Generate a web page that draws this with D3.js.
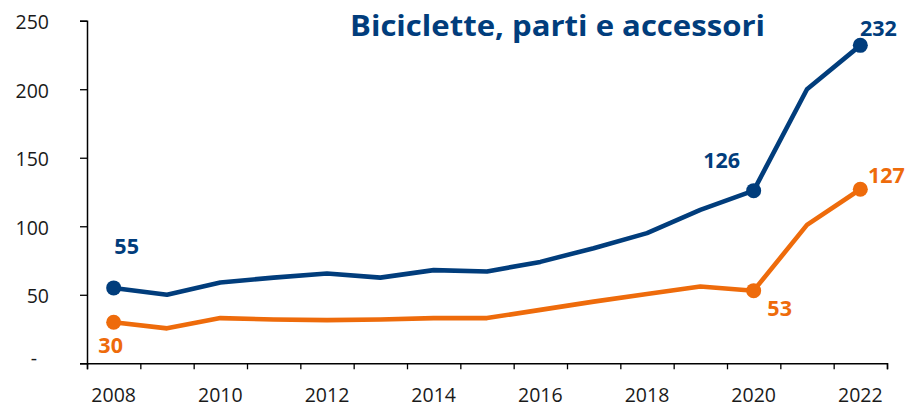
<!DOCTYPE html>
<html><head><meta charset="utf-8">
<script src="https://cdn.jsdelivr.net/npm/d3@7"></script>
<style>body{margin:0;background:#fff}svg{display:block}</style>
</head><body>
<svg id="c" width="908" height="409"></svg>
<script>
const years = [2008,2009,2010,2011,2012,2013,2014,2015,2016,2017,2018,2019,2020,2021,2022];
const blueValues = [55,50,59,62.5,65.5,62.5,68,67,74,84,95,112,126,200,232];
const orangeValues = [30,25.5,33,32,31.5,32,33,33,39,45,50.5,56,53,101,127];
const yTicks = [0,50,100,150,200,250];
const xLabelYears = [2008,2010,2012,2014,2016,2018,2020,2022];
const titleText = "Biciclette, parti e accessori";
const markedIdx = [0,12,14];

const BLUE = "#013d7c", ORANGE = "#ee6b0b";
const svg = d3.select("#c");
const x = d3.scaleBand().domain(years).range([87,887]).padding(0);
const xi = d3.scaleLinear().domain([0,years.length]).range([87,887]);
const y = d3.scaleLinear().domain([0,250]).range([363.3,20.7]);
const cx = d => x(d) + x.bandwidth()/2;

// Y axis
const ya = svg.append("g").attr("transform","translate(87,0)")
  .call(d3.axisLeft(y).tickValues(yTicks).tickSize(7).tickPadding(31)
    .tickFormat(d => d===0 ? "-" : d));
ya.select(".domain").attr("stroke","#000").attr("stroke-width",1.5);
ya.selectAll(".tick line").attr("stroke","#000").attr("stroke-width",1.3);
ya.selectAll("text").attr("font-family","'Open Sans', sans-serif").attr("font-size",19.5)
  .attr("fill","#1a1a1a").attr("dy","0.42em");
ya.selectAll(".tick").filter(d=>d===0).select("text").attr("x",-50).attr("dy","0.05em");

// X axis boundary ticks
const xa = svg.append("g").attr("transform","translate(0,363.3)")
  .call(d3.axisBottom(xi).tickValues(d3.range(years.length+1)).tickSize(6).tickFormat(""));
xa.select(".domain").attr("stroke","#000").attr("stroke-width",1.5);
xa.selectAll(".tick line").attr("stroke","#000").attr("stroke-width",1.3);
// X labels
const xl = svg.append("g").attr("transform","translate(0,363.3)")
  .call(d3.axisBottom(x).tickValues(xLabelYears).tickSize(0).tickPadding(25));
xl.select(".domain").remove();
xl.selectAll("text").attr("font-family","'Open Sans', sans-serif").attr("font-size",19.5)
  .attr("fill","#1a1a1a").attr("dy","0.71em");

// Lines
const line = d3.line().x((d,i)=>cx(years[i])).y(d=>y(d));
[[blueValues,BLUE],[orangeValues,ORANGE]].forEach(([vals,col])=>{
  svg.append("path").datum(vals).attr("d",line).attr("fill","none")
    .attr("stroke",col).attr("stroke-width",4.6).attr("stroke-linejoin","round");
  svg.selectAll(null).data(markedIdx).enter().append("circle")
    .attr("cx",i=>cx(years[i])).attr("cy",i=>y(vals[i])).attr("r",7.5).attr("fill",col);
});

// Value labels (offset layout)
const labelOffsets = {
  blue:   [[13,-34],[-32,-23],[18,-9]],
  orange: [[-3,31],[26,25],[26,-6.5]]
};
[[blueValues,BLUE,labelOffsets.blue],[orangeValues,ORANGE,labelOffsets.orange]].forEach(([vals,col,offs])=>{
  markedIdx.forEach((i,k)=>{
    svg.append("text").attr("x",cx(years[i])+offs[k][0]).attr("y",y(vals[i])+offs[k][1])
      .attr("text-anchor","middle").attr("font-family","'Open Sans', sans-serif")
      .attr("font-weight","bold").attr("font-size",21.5).attr("fill",col).text(vals[i]);
  });
});

// Title
svg.append("text").attr("x",350).attr("y",36).attr("font-family","'Open Sans', sans-serif")
  .attr("font-weight","bold").attr("font-size",29).attr("fill",BLUE)
  .attr("textLength",415).attr("lengthAdjust","spacingAndGlyphs").text(titleText);
</script>
</body></html>
